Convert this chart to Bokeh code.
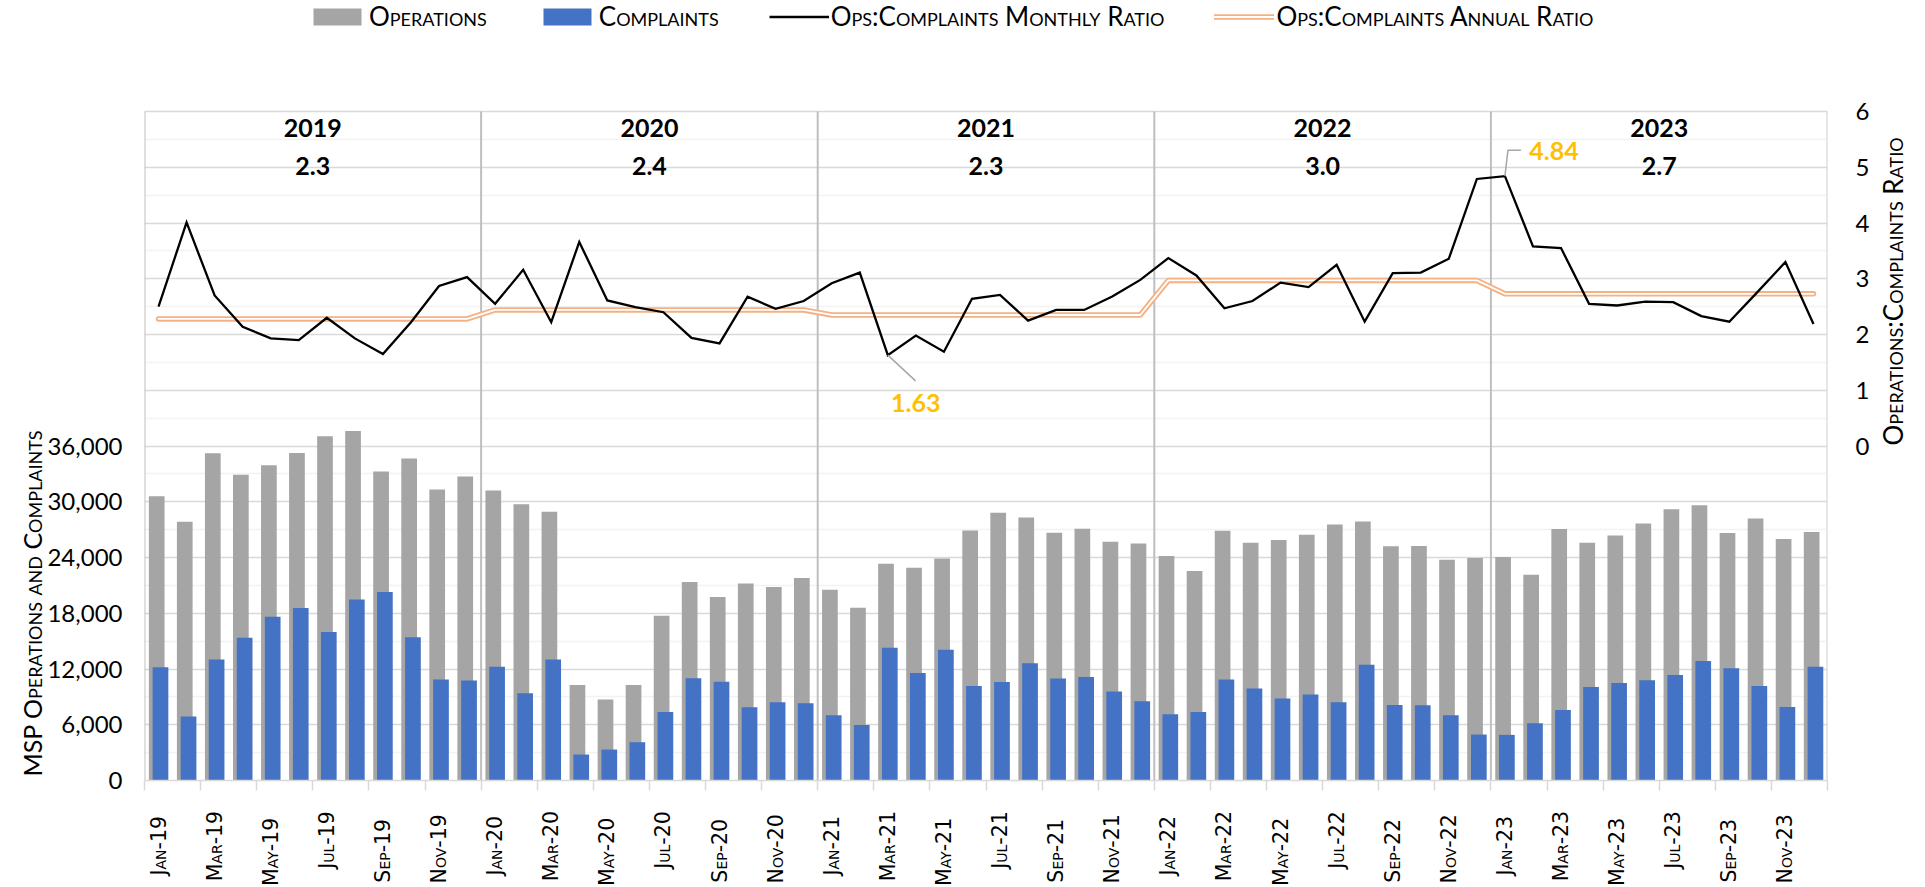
import math
from bokeh.plotting import figure
from bokeh.models import (Range1d, LinearAxis, FixedTicker, NumeralTickFormatter,
                          Legend, LegendItem, Label, InlineStyleSheet)
from bokeh.embed import file_html
from bokeh.resources import INLINE
from bokeh.core.properties import value

# ---------------- data ----------------
month_names = ["Jan", "Feb", "Mar", "Apr", "May", "Jun",
               "Jul", "Aug", "Sep", "Oct", "Nov", "Dec"]
year_suffix = ["19", "20", "21", "22", "23"]
month_labels = [f"{m}-{y}" for y in year_suffix for m in month_names]

years = ["2019", "2020", "2021", "2022", "2023"]
annual_ratio = [2.28, 2.44, 2.35, 2.97, 2.73]
annual_labels = ["2.3", "2.4", "2.3", "3.0", "2.7"]

operations = [
    30600, 27840, 35230, 32900, 33935, 35260, 37050, 37625, 33250, 34650, 31320, 32710,
    31210, 29740, 28920, 10285, 8710, 10285, 17740, 21360, 19745, 21215, 20820, 21790,
    20530, 18600, 23330, 22900, 23900, 26910, 28810, 28310, 26660, 27090, 25690, 25510,
    24150, 22540, 26875, 25585, 25870, 26445, 27555, 27880, 25200, 25230, 23760, 23940,
    24045, 22145, 27055, 25585, 26370, 27660, 29205, 29635, 26625, 28200, 25980, 26735,
]
complaints = [
    12180, 6880, 13010, 15370, 17630, 18560, 15980, 19490, 20280, 15410, 10860, 10750,
    12255, 9390, 13010, 2795, 3330, 4120, 7380, 11000, 10640, 7885, 8420, 8310,
    7020, 5980, 14300, 11575, 14080, 10180, 10610, 12610, 10965, 11150, 9570, 8530,
    7130, 7380, 10860, 9890, 8815, 9245, 8420, 12470, 8120, 8100, 7020, 4945,
    4910, 6160, 7600, 10070, 10500, 10785, 11360, 12865, 12075, 10180, 7920, 12255,
]
monthly_ratio = [
    2.50, 4.01, 2.70, 2.14, 1.93, 1.90, 2.30, 1.93, 1.65, 2.22, 2.87, 3.03,
    2.55, 3.16, 2.22, 3.66, 2.61, 2.49, 2.40, 1.94, 1.84, 2.68, 2.46, 2.60,
    2.92, 3.11, 1.63, 1.98, 1.69, 2.64, 2.71, 2.25, 2.44, 2.44, 2.68, 2.98,
    3.37, 3.06, 2.47, 2.60, 2.93, 2.85, 3.25, 2.23, 3.10, 3.11, 3.36, 4.79,
    4.84, 3.58, 3.55, 2.55, 2.52, 2.59, 2.58, 2.33, 2.23, 2.76, 3.30, 2.19,
]

# ---------------- layout constants ----------------
N = len(month_labels)
PLOT_TOP = 111              # px from canvas top to the chart's top border
PLOT_H = 669                # px height of the bordered chart area
FRAME_W = 1683
FRAME_H = PLOT_TOP + PLOT_H  # frame also covers the legend strip
OPS_MAX = 72000
R_MIN, R_MAX = -6, 6
PX_X = FRAME_W / N
PX_R = PLOT_H / (R_MAX - R_MIN)

GRAY = "#A5A5A5"
BLUE = "#4472C4"
ORANGE = "#F4B183"
GOLD = "#FFC000"
FONT = "Lato"

xs = [i + 0.5 for i in range(N)]
annual_series = [annual_ratio[i // 12] for i in range(N)]

SMALL_CAPS_CSS = ":host, *, text { font-variant: small-caps !important; " \
                 "font-variant-caps: small-caps !important; }"

p = figure(width=1920, height=884, output_backend="svg", toolbar_location=None,
           frame_width=FRAME_W, frame_height=FRAME_H,
           x_range=Range1d(0, N), y_range=Range1d(0, OPS_MAX * FRAME_H / PLOT_H),
           min_border_left=144, min_border_right=93,
           min_border_top=0, min_border_bottom=104)
p.title.visible = False
p.stylesheets = [InlineStyleSheet(css=SMALL_CAPS_CSS)]
p.extra_y_ranges = {"ratio": Range1d(R_MIN, R_MIN + (R_MAX - R_MIN) * FRAME_H / PLOT_H)}
p.background_fill_color = "white"
p.border_fill_color = "white"
p.outline_line_color = None

# horizontal grid (top line = chart top border)
p.ygrid.ticker = FixedTicker(ticks=list(range(0, OPS_MAX + 1, 6000)),
                             minor_ticks=list(range(3000, OPS_MAX, 6000)))
p.ygrid.grid_line_color = "#D9D9D9"
p.ygrid.grid_line_width = 1.5
p.ygrid.minor_grid_line_color = "#F2F2F2"
p.ygrid.minor_grid_line_width = 1.5
p.xgrid.visible = False

# year separators and side borders
seps = [0, 12, 24, 36, 48]
p.segment(x0=seps, x1=seps, y0=[0] * len(seps), y1=[OPS_MAX] * len(seps),
          line_color="#BFBFBF", line_width=2)
p.segment(x0=[N], x1=[N], y0=[0], y1=[OPS_MAX], line_color="#D0D0D0", line_width=2)

# left axis
yax = p.yaxis[0]
yax.ticker = FixedTicker(ticks=list(range(0, 36001, 6000)))
yax.formatter = NumeralTickFormatter(format="0,0")
yax.axis_line_color = None
yax.major_tick_line_color = None
yax.minor_tick_line_color = None
yax.major_label_standoff = 16
yax.major_label_text_font = FONT
yax.major_label_text_font_size = "24px"
yax.major_label_text_color = "#000000"

# right axis
rax = LinearAxis(y_range_name="ratio", ticker=FixedTicker(ticks=[0, 1, 2, 3, 4, 5, 6]))
rax.axis_line_color = None
rax.major_tick_line_color = None
rax.minor_tick_line_color = None
rax.major_label_standoff = 22
rax.major_label_text_font = FONT
rax.major_label_text_font_size = "24px"
rax.major_label_text_color = "#000000"
p.add_layout(rax, "right")

# bottom axis
xax = p.xaxis[0]
label_pos = [xs[i] for i in range(0, N, 2)]
xax.ticker = FixedTicker(ticks=label_pos, minor_ticks=list(range(0, N + 1, 2)))
xax.major_label_overrides = {xs[i]: month_labels[i] for i in range(0, N, 2)}
xax.major_tick_line_color = None
xax.major_tick_out = 0
xax.major_tick_in = 0
xax.minor_tick_line_color = "#D9D9D9"
xax.minor_tick_line_width = 1.5
xax.minor_tick_out = 10
xax.minor_tick_in = 0
xax.axis_line_color = "#D9D9D9"
xax.axis_line_width = 1.5
xax.major_label_orientation = math.pi / 2
xax.major_label_standoff = 20
xax.major_label_text_font = "DejaVu Sans"
xax.major_label_text_font_size = "20.5px"
xax.major_label_text_color = "#000000"

# bars
ops_r = p.vbar(x=[x - 0.065 for x in xs], top=operations, width=0.56, bottom=0,
               fill_color=GRAY, line_color=None)
cmp_r = p.vbar(x=[x + 0.07 for x in xs], top=complaints, width=0.56, bottom=0,
               fill_color=BLUE, line_color=None)

# annual ratio (double line)
ann_o = p.line(xs, annual_series, y_range_name="ratio", line_color=ORANGE,
               line_width=5.5, line_cap="round", line_join="round")
ann_w = p.line(xs, annual_series, y_range_name="ratio", line_color="white",
               line_width=1.8, line_cap="round", line_join="round")

# monthly ratio
mon_r = p.line(xs, monthly_ratio, y_range_name="ratio", line_color="black",
               line_width=2.3, line_join="miter")

# year headings
year_mid = [6 + 12 * k for k in range(len(years))]
p.text(x=year_mid, y=[R_MAX - 16 / PX_R] * len(years), text=years, y_range_name="ratio",
       text_font=value(FONT), text_font_style="bold", text_font_size="25px",
       text_align="center", text_baseline="middle", text_color="black")
p.text(x=year_mid, y=[R_MAX - 54 / PX_R] * len(years), text=annual_labels,
       y_range_name="ratio",
       text_font=value(FONT), text_font_style="bold", text_font_size="25px",
       text_align="center", text_baseline="middle", text_color="black")

# max / min callouts
imax = max(range(N), key=lambda i: monthly_ratio[i])
imin = min(range(N), key=lambda i: monthly_ratio[i])
mx, my = xs[imax], monthly_ratio[imax]
nx, ny = xs[imin], monthly_ratio[imin]

p.line([mx, mx + 3 / PX_X, mx + 16 / PX_X], [my, my + 26 / PX_R, my + 26 / PX_R],
       y_range_name="ratio", line_color="#A6A6A6", line_width=1.5)
p.text(x=[mx], y=[my], text=[f"{my:.2f}"], x_offset=49, y_offset=-25,
       y_range_name="ratio", text_font=value(FONT), text_font_style="bold",
       text_font_size="25px", text_color=GOLD, text_align="center",
       text_baseline="middle")
p.line([nx, nx + 27.7 / PX_X], [ny, ny - 25.7 / PX_R],
       y_range_name="ratio", line_color="#A6A6A6", line_width=1.5)
p.text(x=[nx], y=[ny], text=[f"{ny:.2f}"], x_offset=28, y_offset=48,
       y_range_name="ratio", text_font=value(FONT), text_font_style="bold",
       text_font_size="25px", text_color=GOLD, text_align="center",
       text_baseline="middle")

# axis titles (in the side panels)
p.add_layout(Label(x=17, y=4, x_units="screen", y_units="screen",
                   text="MSP Operations and Complaints", angle=math.pi / 2,
                   text_align="left", text_baseline="middle",
                   text_font=FONT, text_font_size="25px", text_color="black"), "left")
p.add_layout(Label(x=20, y=335, x_units="screen", y_units="screen",
                   text="Operations:Complaints Ratio", angle=math.pi / 2,
                   text_align="left", text_baseline="middle",
                   text_font=FONT, text_font_size="26px", text_color="black"), "right")

# legend (inside the frame's top strip)
legend = Legend(items=[
    LegendItem(label="Operations", renderers=[ops_r]),
    LegendItem(label="Complaints", renderers=[cmp_r]),
    LegendItem(label="Ops:Complaints Monthly Ratio", renderers=[mon_r]),
    LegendItem(label="Ops:Complaints Annual Ratio", renderers=[ann_o, ann_w]),
], location=(163, 748), orientation="horizontal",
    glyph_width=60, glyph_height=21, label_standoff=2, spacing=50,
    padding=0, margin=0, border_line_color=None, background_fill_alpha=0,
    label_text_font=FONT, label_text_font_size="26px", label_text_color="black",
    label_text_baseline="middle")
legend.stylesheets = [InlineStyleSheet(css=SMALL_CAPS_CSS)]
p.add_layout(legend)

html = file_html(p, INLINE)
html = html.replace("</head>",
                    "<style>body, body * {font-variant: small-caps;}</style></head>", 1)
open("out.html", "w").write(html)
